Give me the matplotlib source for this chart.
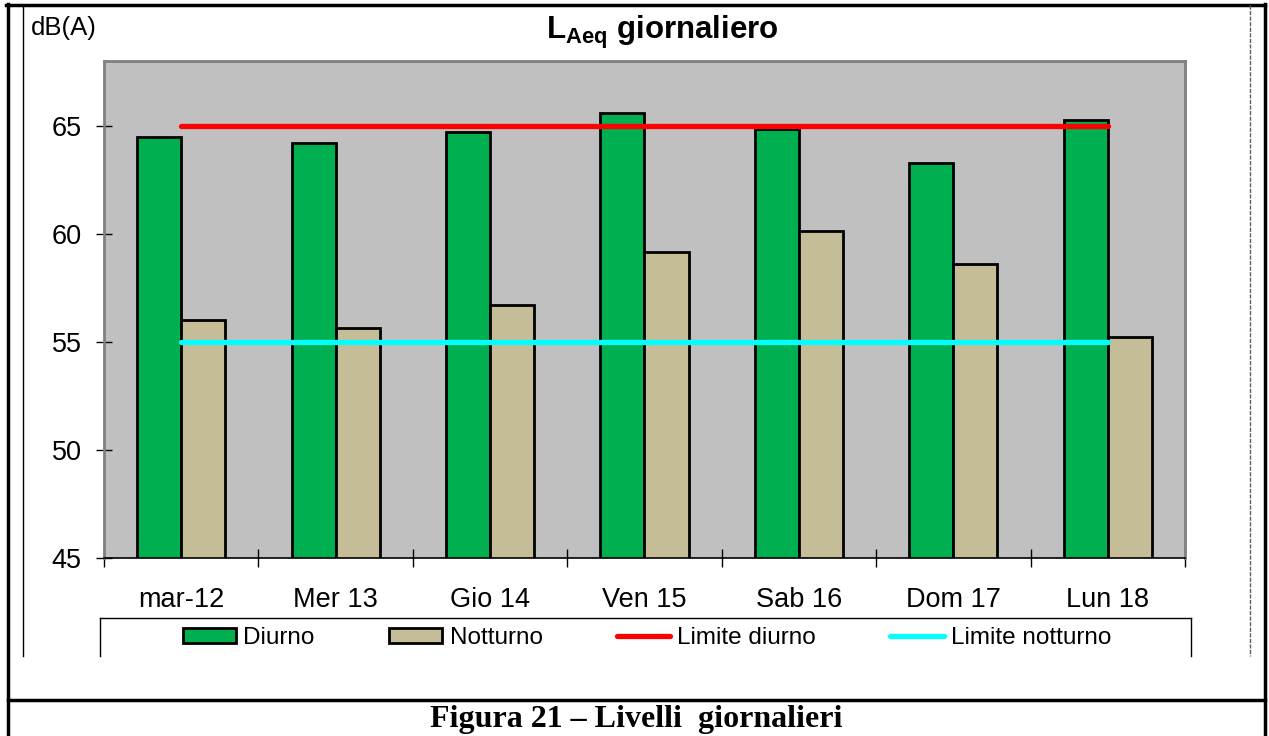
import numpy as np
import matplotlib
matplotlib.use("Agg")
import matplotlib.pyplot as plt
from matplotlib.lines import Line2D
from matplotlib.patches import Patch

plt.rcParams['font.family'] = ['Liberation Sans', 'DejaVu Sans']
plt.rcParams['mathtext.fontset'] = 'custom'
plt.rcParams['mathtext.rm'] = 'Liberation Sans'
plt.rcParams['mathtext.bf'] = 'Liberation Sans:bold'

# ******************************
## Data
# ******************************
giorni = ['mar-12', 'Mer 13', 'Gio 14', 'Ven 15', 'Sab 16', 'Dom 17', 'Lun 18']
diurno = [64.5, 64.2, 64.7, 65.6, 64.85, 63.3, 65.25]
notturno = [56.0, 55.65, 56.7, 59.15, 60.15, 58.6, 55.25]
limite_diurno = [65, 65, 65, 65, 65, 65, 65]
limite_notturno = [55, 55, 55, 55, 55, 55, 55]
y_ticks = [45, 50, 55, 60, 65]

W, H = 1269, 736
fig = plt.figure(figsize=(W/100, H/100), dpi=100)

def fx(px): return px/W
def fy(py): return 1 - py/H

ax = fig.add_axes([fx(104), fy(558), fx(1185)-fx(104), fy(61)-fy(558)])
ax.set_facecolor('#C0C0C0')

x = np.arange(len(giorni))
w = 1/3.5
ax.bar(x - w/2, diurno, w, bottom=0, color='#00B050', edgecolor='black', linewidth=2.0, zorder=2)
ax.bar(x + w/2, notturno, w, bottom=0, color='#C4BD97', edgecolor='black', linewidth=2.0, zorder=2)
ax.plot(x, limite_diurno, color='#FF0000', lw=3.8, solid_capstyle='round', zorder=3)
ax.plot(x, limite_notturno, color='#00FFFF', lw=3.8, solid_capstyle='round', zorder=3)

ax.set_xlim(-0.5, len(giorni)-0.5)
ax.set_ylim(45, 68)
ax.set_yticks(y_ticks)
ax.tick_params(axis='y', direction='inout', length=12, width=1, pad=10, labelsize=19.5)
ax.set_xticks(np.arange(len(giorni)+1) - 0.5)
ax.set_xticklabels([])
ax.set_xticks(x, minor=True)
ax.set_xticklabels(giorni, minor=True)
ax.tick_params(axis='x', which='major', direction='inout', length=13, width=1)
ax.tick_params(axis='x', which='minor', length=0, pad=21, labelsize=19.5)

for s in ['top', 'right', 'left']:
    ax.spines[s].set_color('#808080')
    ax.spines[s].set_linewidth(2)
ax.spines['bottom'].set_color('black')
ax.spines['bottom'].set_linewidth(1.2)

# title and unit
fig.text(fx(662), fy(32), r'$\mathbf{L_{Aeq}}$ giornaliero', ha='center', va='center',
         fontsize=22.5, fontweight='bold')
fig.text(fx(31), fy(28), 'dB(A)', ha='left', va='center', fontsize=18.5)

# legend
handles = [Patch(facecolor='#00B050', edgecolor='black', linewidth=2.0),
           Patch(facecolor='#C4BD97', edgecolor='black', linewidth=2.0),
           Line2D([], [], color='#FF0000', lw=3.8, solid_capstyle='round'),
           Line2D([], [], color='#00FFFF', lw=3.8, solid_capstyle='round')]
labels = ['Diurno', 'Notturno', 'Limite diurno', 'Limite notturno']
fig.legend(handles, labels, loc='center', bbox_to_anchor=(fx(647), fy(638)), ncol=4,
           frameon=False, fontsize=17.5, handlelength=2.2, handleheight=0.6,
           handletextpad=0.3, columnspacing=3.05)

# legend box (bottom cut off)
lk = dict(color='black', lw=1, transform=fig.transFigure)
fig.add_artist(Line2D([fx(100), fx(100)], [fy(656), fy(618)], **lk))
fig.add_artist(Line2D([fx(100), fx(1191)], [fy(618), fy(618)], **lk))
fig.add_artist(Line2D([fx(1191), fx(1191)], [fy(618), fy(656)], **lk))

# page frame
fk = dict(color='black', lw=2.5, transform=fig.transFigure)
fig.add_artist(Line2D([fx(6), fx(1265)], [fy(4.5), fy(4.5)], **fk))
fig.add_artist(Line2D([fx(8), fx(8)], [fy(4), fy(736)], **fk))
fig.add_artist(Line2D([fx(1265), fx(1265)], [fy(4), fy(736)], **fk))
fig.add_artist(Line2D([fx(8), fx(1265)], [fy(700), fy(700)], **fk))
fig.add_artist(Line2D([fx(23), fx(23)], [fy(5), fy(656)], color='black', lw=1, transform=fig.transFigure))
fig.add_artist(Line2D([fx(1250), fx(1250)], [fy(5), fy(656)], color='#606060', lw=1,
                      ls=(0, (3, 1)), transform=fig.transFigure))

fig.text(fx(636), fy(719), 'Figura 21 \u2013 Livelli  giornalieri', ha='center', va='center',
         fontsize=23, fontweight='bold', family=['Liberation Serif', 'DejaVu Serif'])

fig.savefig('out.png', dpi=100)
